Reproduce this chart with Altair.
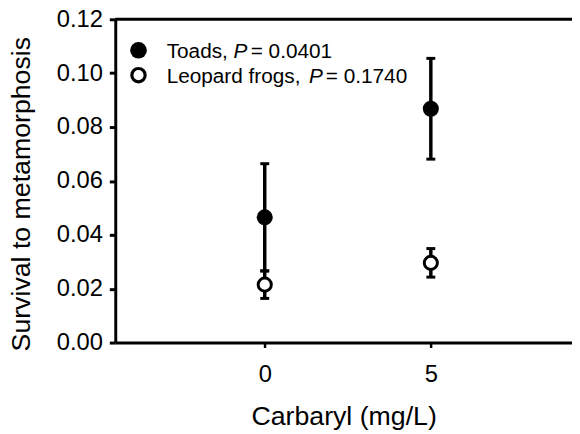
import altair as alt
import pandas as pd

# ---- data ----
doses = [0, 5]
toad_mean = [0.0465, 0.0868]
toad_se = [0.0199, 0.0187]
frog_mean = [0.0215, 0.0296]
frog_se = [0.0051, 0.0053]

legend_names = ["Toads,", "Leopard frogs,"]
legend_p = ["= 0.0401", "= 0.1740"]

y_ticks = [0.0, 0.02, 0.04, 0.06, 0.08, 0.10, 0.12]
x_ticks = [0, 5]

FONT = "Liberation Sans, Arial, Helvetica, sans-serif"

rows = []
for sp, means, ses in (("Toads", toad_mean, toad_se), ("Leopard frogs", frog_mean, frog_se)):
    for d, m, s in zip(doses, means, ses):
        rows.append({"species": sp, "dose": d, "mean": m, "lo": m - s, "hi": m + s})
df = pd.DataFrame(rows)
toads = df[df.species == "Toads"]
frogs = df[df.species == "Leopard frogs"]

xscale = alt.Scale(domain=[-4.5, 9.25], nice=False, zero=False)
yscale = alt.Scale(domain=[0, 0.12], nice=False, zero=False)

xaxis = alt.Axis(values=x_ticks, title="Carbaryl (mg/L)", grid=False)
yaxis = alt.Axis(values=y_ticks, format=".2f", title="Survival to metamorphosis", grid=False)

X = alt.X("dose:Q", scale=xscale, axis=xaxis)

def Y(field):
    return alt.Y(field, type="quantitative", scale=yscale, axis=yaxis)

top_line = alt.Chart(pd.DataFrame({"y": [0.12]})).mark_rule(
    color="black", strokeWidth=3).encode(y=Y("y"))

def bars(d):
    rule = alt.Chart(d).mark_rule(color="black", strokeWidth=3.5).encode(
        x=X, y=Y("lo"), y2="hi:Q")
    cap_lo = alt.Chart(d).mark_tick(orient="horizontal", color="black", size=9,
                                    thickness=3, opacity=1).encode(x=X, y=Y("lo"))
    cap_hi = alt.Chart(d).mark_tick(orient="horizontal", color="black", size=9,
                                    thickness=3, opacity=1).encode(x=X, y=Y("hi"))
    return rule + cap_lo + cap_hi

toad_pts = alt.Chart(toads).mark_point(shape="circle", filled=True, color="black",
                                       size=263, opacity=1).encode(x=X, y=Y("mean"))
frog_pts = alt.Chart(frogs).mark_point(shape="circle", fill="white", stroke="black",
                                       strokeWidth=3, size=177, opacity=1,
                                       fillOpacity=1).encode(x=X, y=Y("mean"))

# ---- legend (layout positions in pixels) ----
leg_df = pd.DataFrame({"n": [0]})
LEG_FS = 21
leg_sym_x = 23.5
leg_sym_y = [31.3, 56.5]
leg_text_x = 52
leg_text_y = [38.7, 64.0]
leg_p_x = [119.5, 196.0]
leg_eq_x = [137.0, 213.0]

legend_layers = []
legend_layers.append(alt.Chart(leg_df).mark_point(shape="circle", filled=True, color="black",
                                                  size=283, opacity=1).encode(
    x=alt.value(leg_sym_x), y=alt.value(leg_sym_y[0])))
legend_layers.append(alt.Chart(leg_df).mark_point(shape="circle", fill="white", stroke="black",
                                                  strokeWidth=3.2, size=180, opacity=1,
                                                  fillOpacity=1).encode(
    x=alt.value(leg_sym_x), y=alt.value(leg_sym_y[1])))
for i in range(2):
    legend_layers.append(alt.Chart(leg_df).mark_text(
        text=legend_names[i], font=FONT, fontSize=LEG_FS, align="left", baseline="alphabetic",
        color="black").encode(x=alt.value(leg_text_x), y=alt.value(leg_text_y[i])))
    legend_layers.append(alt.Chart(leg_df).mark_text(
        text="P", font=FONT, fontSize=LEG_FS, fontStyle="italic", align="left",
        baseline="alphabetic", color="black").encode(
        x=alt.value(leg_p_x[i]), y=alt.value(leg_text_y[i])))
    legend_layers.append(alt.Chart(leg_df).mark_text(
        text=legend_p[i], font=FONT, fontSize=LEG_FS, align="left", baseline="alphabetic",
        color="black").encode(x=alt.value(leg_eq_x[i]), y=alt.value(leg_text_y[i])))

chart = alt.layer(
    top_line, bars(toads), bars(frogs), toad_pts, frog_pts, *legend_layers
).properties(
    width=462, height=327,
    autosize=alt.AutoSizeParams(type="none"),
    padding={"left": 108.5, "top": 9, "right": 0, "bottom": 88},
    background="white",
).configure_view(stroke=None).configure_axis(
    labelFont=FONT, titleFont=FONT, labelColor="black", titleColor="black",
    domainColor="black", tickColor="black", grid=False,
    labelFontSize=24, titleFontSize=27, titleFontWeight="normal", domainWidth=3,
).configure_axisX(
    tickSize=5, tickWidth=2.5, labelPadding=15, titleBaseline="alphabetic",
    titleY=82.7,
).configure_axisY(
    tickSize=6, tickWidth=3, labelPadding=7, titleBaseline="bottom",
    titleX=-80.5, titleY=176.4,
)

chart.save("out.html", embed_options={"renderer": "svg", "actions": False})
